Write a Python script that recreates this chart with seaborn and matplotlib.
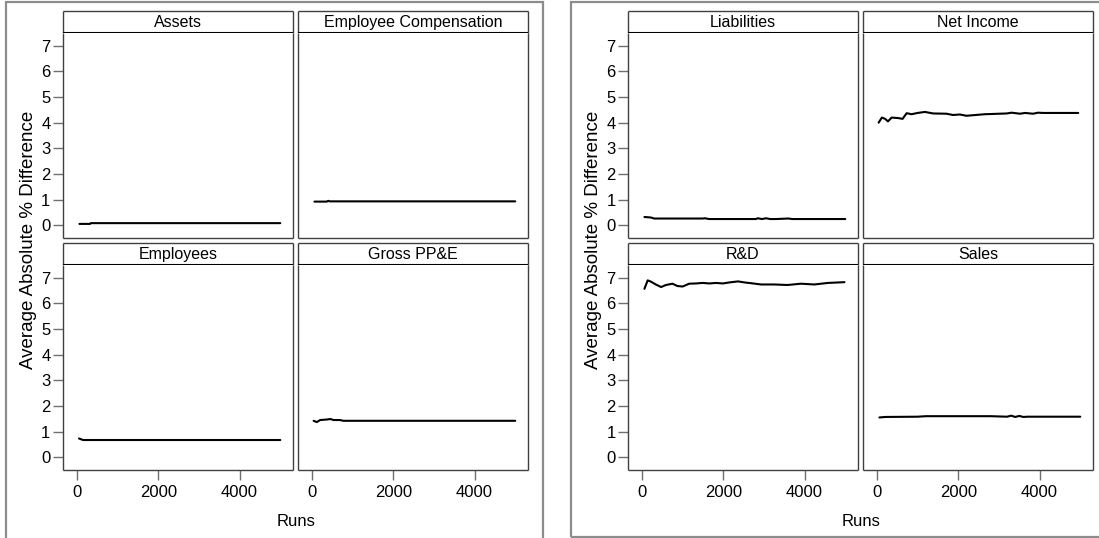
import numpy as np
import pandas as pd
import matplotlib
matplotlib.use("Agg")
import matplotlib.pyplot as plt
from matplotlib.patches import Rectangle
import seaborn as sns

# Running average absolute % difference by number of runs, per measure
assets_runs = [60, 320, 340, 5000]
assets_vals = [0.05, 0.05, 0.08, 0.08]

empcomp_runs = [60, 360, 400, 440, 5000]
empcomp_vals = [0.92, 0.92, 0.95, 0.93, 0.93]

employees_runs = [50, 150, 5000]
employees_vals = [0.73, 0.67, 0.67]

ppe_runs = [40, 120, 200, 370, 450, 530, 690, 770, 5000]
ppe_vals = [1.42, 1.37, 1.45, 1.47, 1.49, 1.45, 1.45, 1.42, 1.42]

liab_runs = [60, 220, 300, 1500, 1550, 1650, 2800, 2850, 2950, 3050, 3150, 3300, 3600, 3700, 5000]
liab_vals = [0.32, 0.30, 0.26, 0.26, 0.27, 0.24, 0.24, 0.27, 0.24, 0.27, 0.24, 0.24, 0.26, 0.24, 0.24]

netinc_runs = [40, 120, 200, 270, 360, 520, 630, 730, 850, 1000, 1180, 1380, 1710, 1870,
               2040, 2200, 2650, 3190, 3310, 3520, 3640, 3840, 3960, 4090, 4950]
netinc_vals = [4.00, 4.20, 4.15, 4.05, 4.20, 4.18, 4.15, 4.37, 4.33, 4.38, 4.42, 4.36, 4.35, 4.30,
               4.32, 4.27, 4.33, 4.36, 4.39, 4.35, 4.38, 4.35, 4.39, 4.38, 4.38]

rd_runs = [60, 140, 220, 340, 470, 590, 750, 870, 1000, 1160, 1330, 1490, 1660, 1820, 1990,
           2150, 2360, 2520, 2680, 2930, 3250, 3580, 3910, 4240, 4570, 4980]
rd_vals = [6.57, 6.90, 6.85, 6.74, 6.64, 6.72, 6.77, 6.68, 6.66, 6.77, 6.78, 6.80, 6.78, 6.80, 6.78,
           6.82, 6.86, 6.82, 6.79, 6.74, 6.74, 6.72, 6.77, 6.74, 6.80, 6.83]

sales_runs = [60, 200, 1000, 1200, 2800, 3200, 3300, 3400, 3500, 3600, 3700, 5000]
sales_vals = [1.55, 1.57, 1.58, 1.60, 1.60, 1.58, 1.62, 1.57, 1.61, 1.57, 1.58, 1.58]

left_measures = ["Assets", "Employee Compensation", "Employees", "Gross PP&E"]
right_measures = ["Liabilities", "Net Income", "R&D", "Sales"]

series = {
    "Assets": (assets_runs, assets_vals),
    "Employee Compensation": (empcomp_runs, empcomp_vals),
    "Employees": (employees_runs, employees_vals),
    "Gross PP&E": (ppe_runs, ppe_vals),
    "Liabilities": (liab_runs, liab_vals),
    "Net Income": (netinc_runs, netinc_vals),
    "R&D": (rd_runs, rd_vals),
    "Sales": (sales_runs, sales_vals),
}

frames = []
for name, (r, v) in series.items():
    frames.append(pd.DataFrame({"Measure": name, "Runs": r, "Value": v}))
df = pd.concat(frames, ignore_index=True)

y_ticks = [0, 1, 2, 3, 4, 5, 6, 7]
x_ticks = [0, 2000, 4000]

sns.set_theme(style="white")
plt.rcParams["font.family"] = ["Liberation Sans", "DejaVu Sans"]

W, H = 1099, 538
fig = plt.figure(figsize=(W / 100, H / 100), dpi=100)
fig.patch.set_facecolor("white")


def rect(x0, y0, x1, y1):
    # pixel box (top-left origin) -> figure fraction rect
    return [x0 / W, 1 - y1 / H, (x1 - x0) / W, (y1 - y0) / H]


frame_col = "#404040"
tick_col = "#707070"

# outer panel borders
for (bx0, by0, bx1, by1) in [(6, 2, 543, 545), (571, 2, 1110, 537)]:
    fig.patches.append(Rectangle((bx0 / W, 1 - by1 / H), (bx1 - bx0) / W, (by1 - by0) / H,
                                 transform=fig.transFigure, fill=False,
                                 edgecolor="#8c8c8c", linewidth=1.6, zorder=0))


def draw_panel(measures, x_offset):
    cols = [(63 + x_offset, 293 + x_offset), (298 + x_offset, 528 + x_offset)]
    rows = [(11, 33, 238), (243, 265, 470)]
    for i, name in enumerate(measures):
        r, c = divmod(i, 2)
        hx0, hx1 = cols[c]
        htop, hbot, pbot = rows[r]

        # header strip
        hax = fig.add_axes(rect(hx0, htop, hx1, hbot))
        hax.set_xticks([])
        hax.set_yticks([])
        for s in hax.spines.values():
            s.set_color(frame_col)
            s.set_linewidth(1.0)
            s.set_capstyle("butt")
        hax.spines["bottom"].set_color("black")
        hax.spines["bottom"].set_linewidth(1.5)
        hax.text(0.5, 0.48, name, ha="center", va="center", fontsize=11.5, color="black",
                 transform=hax.transAxes)

        ax = fig.add_axes(rect(hx0, hbot, hx1, pbot))
        sub = df[df["Measure"] == name]
        sns.lineplot(data=sub, x="Runs", y="Value", ax=ax, color="black",
                     linewidth=1.5, estimator=None, sort=False)
        ax.set_xlim(-344, 5313)
        ax.set_ylim(-0.5, 7.5)
        ax.set_xlabel("")
        ax.set_ylabel("")
        for s in ax.spines.values():
            s.set_color(frame_col)
            s.set_linewidth(1.0)
            s.set_capstyle("butt")
        ax.spines["top"].set_visible(False)
        ax.set_yticks(y_ticks)
        ax.set_xticks(x_ticks)
        ax.tick_params(axis="both", which="both", color=tick_col, length=7, width=1.0,
                       labelsize=12, labelcolor="black")
        ax.tick_params(axis="y", left=(c == 0), labelleft=(c == 0), pad=2)
        ax.tick_params(axis="x", bottom=(r == 1), labelbottom=(r == 1), pad=4)

    # shared axis labels for the panel
    fig.text((29 + x_offset) / W, 1 - 240 / H, "Average Absolute % Difference",
             rotation=90, ha="center", va="center", fontsize=13.5, color="black")
    fig.text((296 + x_offset) / W, 1 - 521 / H, "Runs",
             ha="center", va="center", fontsize=12, color="black")


draw_panel(left_measures, 0)
draw_panel(right_measures, 565)

fig.savefig("out.png", dpi=100, facecolor="white")
